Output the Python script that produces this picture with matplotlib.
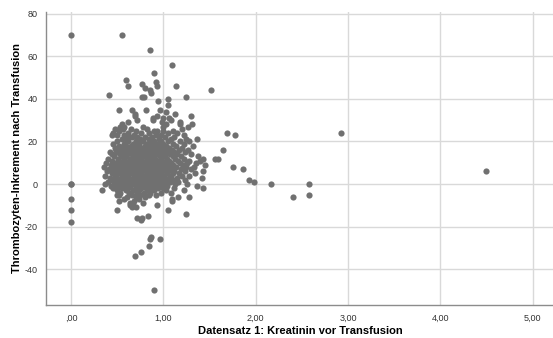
import matplotlib
matplotlib.use("Agg")
import matplotlib.pyplot as plt

# Datensatz 1: Kreatinin vor Transfusion (x) / Thrombozyten-Inkrement (y)
# obere Ausreisser und Einzelpunkte
x_top = [0.0, 0.55, 0.855, 1.09, 0.90, 0.595, 0.92, 0.765, 0.62, 0.80, 0.93, 1.14,
         0.86, 0.87, 1.52, 0.415, 0.77, 0.79, 1.245, 0.945, 1.05, 1.05, 0.52, 0.66,
         0.815, 0.96, 1.03, 0.69, 1.125, 0.69, 0.935, 1.30, 0.89, 1.0, 1.06,
         2.92, 4.49, 1.685, 1.78]
y_top = [70, 70, 63, 56, 52, 49, 48, 47, 46, 45, 46, 46,
         44, 43, 44, 42, 41, 41, 41, 39, 40, 37, 35, 35,
         35, 35, 34, 33, 33, 32, 32, 32, 31, 31, 31,
         24, 6, 24, 23]

# Hauptwolke, zeilenweise nach Inkrement
rows = {
    30: [0.89, 1.08, 0.72],
    29: [0.99, 1.18, 0.62],
    28: [1.03, 1.31, 1.18, 0.55],
    27: [0.53, 0.78, 1.27, 1.0, 0.58],
    26: [0.56, 0.65, 0.82, 0.48, 1.2],
    25: [0.90, 0.93, 1.0, 0.52, 0.7, 1.1],
    24: [0.46, 0.62, 0.85, 1.05, 1.15, 0.76],
    23: [0.44, 0.58, 0.68, 0.92, 0.98, 1.22, 0.5],
    22: [0.63, 0.66, 0.8, 0.88, 1.02, 1.12, 0.72],
    21: [1.36, 0.55, 0.75, 0.84, 0.95, 1.08, 1.25, 0.6],
    20: [0.5, 0.62, 0.7, 0.78, 0.86, 0.9, 0.97, 1.05, 1.18, 1.28],
    19: [0.46, 0.58, 0.67, 0.74, 0.82, 0.88, 0.93, 1.0, 1.1, 1.22],
    18: [0.52, 0.6, 0.65, 0.72, 0.8, 0.85, 0.91, 0.96, 1.03, 1.14, 1.32],
    17: [0.48, 0.56, 0.64, 0.7, 0.77, 0.83, 0.87, 0.94, 0.99, 1.06, 1.2],
    16: [0.49, 0.54, 0.6, 0.68, 0.73, 0.79, 0.84, 0.89, 0.95, 1.01, 1.09, 1.17, 1.27, 1.645],
    15: [0.42, 0.5, 0.58, 0.63, 0.7, 0.75, 0.81, 0.86, 0.92, 0.97, 1.04, 1.12, 1.24],
    14: [0.44, 0.53, 0.61, 0.66, 0.72, 0.78, 0.83, 0.88, 0.94, 1.0, 1.07, 1.15, 1.3],
    13: [0.47, 0.55, 0.6, 0.67, 0.74, 0.8, 0.85, 0.9, 0.96, 1.02, 1.1, 1.19, 1.38],
    12: [0.4, 0.51, 0.57, 0.64, 0.69, 0.76, 0.82, 0.87, 0.91, 0.98, 1.04, 1.13, 1.22, 1.56, 1.59, 1.43],
    11: [0.45, 0.52, 0.59, 0.65, 0.71, 0.77, 0.84, 0.89, 0.93, 0.99, 1.06, 1.16, 1.28, 1.4],
    10: [0.38, 0.48, 0.55, 0.62, 0.68, 0.73, 0.79, 0.85, 0.88, 0.95, 1.01, 1.08, 1.18, 1.26, 1.35],
    9: [0.43, 0.5, 0.57, 0.63, 0.7, 0.75, 0.81, 0.86, 0.92, 0.97, 1.03, 1.11, 1.21, 1.45],
    8: [0.36, 0.46, 0.53, 0.6, 0.66, 0.72, 0.78, 0.83, 0.89, 0.94, 1.0, 1.07, 1.14, 1.25, 1.76, 1.33],
    7: [0.41, 0.49, 0.56, 0.62, 0.69, 0.74, 0.8, 0.86, 0.9, 0.96, 1.02, 1.09, 1.19, 1.3, 1.86],
    6: [0.39, 0.47, 0.54, 0.6, 0.67, 0.73, 0.77, 0.84, 0.88, 0.93, 0.99, 1.05, 1.12, 1.23, 1.43],
    5: [0.44, 0.51, 0.58, 0.64, 0.7, 0.76, 0.82, 0.87, 0.91, 0.98, 1.04, 1.1, 1.17, 1.34],
    4: [0.37, 0.48, 0.55, 0.61, 0.68, 0.74, 0.79, 0.85, 0.9, 0.95, 1.01, 1.08, 1.2, 1.28],
    3: [0.42, 0.5, 0.57, 0.63, 0.71, 0.77, 0.83, 0.88, 0.94, 1.0, 1.06, 1.15, 1.42],
    2: [0.45, 0.53, 0.59, 0.66, 0.72, 0.8, 0.86, 0.92, 0.97, 1.03, 1.11, 1.24, 1.93],
    1: [0.4, 0.49, 0.56, 0.62, 0.69, 0.75, 0.82, 0.87, 0.93, 0.99, 1.07, 1.16, 1.98],
    0: [0.0, 0.0, 0.37, 0.47, 0.54, 0.6, 0.67, 0.73, 0.79, 0.85, 0.9, 0.96, 1.02, 1.13, 1.26, 2.17, 2.58],
    -1: [0.43, 0.51, 0.58, 0.64, 0.71, 0.78, 0.84, 0.89, 0.95, 1.04, 1.36],
    -2: [0.46, 0.55, 0.62, 0.7, 0.76, 0.81, 0.88, 0.94, 1.0, 1.12, 1.43],
    -3: [0.34, 0.5, 0.6, 0.67, 0.74, 0.83, 0.9, 1.03, 1.22],
    -4: [0.53, 0.63, 0.72, 0.79, 0.86, 0.97, 1.08],
    -5: [0.5, 0.52, 0.66, 0.75, 0.84, 0.92, 2.58],
    -6: [0.61, 0.7, 0.8, 1.16, 1.28, 2.41],
    -7: [0.0, 0.57, 0.74, 1.09],
    -8: [0.52, 0.68, 1.09],
    -9: [0.64, 0.78],
    -10: [0.64, 0.67, 0.93],
    -11: [0.66, 0.7],
    -12: [0.0, 0.495, 1.05],
    -14: [1.245],
    -15: [0.83],
    -16: [0.72, 0.77],
    -17: [0.76],
    -18: [0.0],
    -25: [0.865],
    -26: [0.86, 0.96],
    -29: [0.84],
    -32: [0.755],
    -34: [0.69],
    -50: [0.895],
}

kreatinin = list(x_top)
inkrement = list(y_top)
for yv, xs in rows.items():
    kreatinin += xs
    inkrement += [yv] * len(xs)

x_ticks = [0, 1, 2, 3, 4, 5]
x_ticklabels = [",00", "1,00", "2,00", "3,00", "4,00", "5,00"]
y_ticks = [-40, -20, 0, 20, 40, 60, 80]

plt.rcParams['font.family'] = ['Liberation Sans', 'DejaVu Sans']
plt.rcParams['axes.unicode_minus'] = False

fig = plt.figure(figsize=(5.53, 3.38), dpi=100)
ax = fig.add_axes([46 / 553, 33 / 338, 507 / 553, 293 / 338])

ax.scatter(kreatinin, inkrement, s=20, color='#707070', linewidths=0, zorder=3)

ax.set_xlim(-0.27, 5.22)
ax.set_ylim(-56.9, 80.9)
ax.set_xticks(x_ticks)
ax.set_xticklabels(x_ticklabels)
ax.set_yticks(y_ticks)
ax.grid(True, color='#d9d9d9', linewidth=1.0, zorder=0)
ax.tick_params(length=0, labelsize=6.5, labelcolor='#333333', pad=6)

for side in ['top', 'right']:
    ax.spines[side].set_visible(False)
for side in ['left', 'bottom']:
    ax.spines[side].set_color('#8c8c8c')
    ax.spines[side].set_linewidth(1.0)

fig.text(300 / 553, 1 - 331 / 338, 'Datensatz 1: Kreatinin vor Transfusion',
         fontsize=8, fontweight='bold', ha='center', va='center')
fig.text(17 / 553, 1 - 158 / 338, 'Thrombozyten-Inkrement nach Transfusion',
         fontsize=8, fontweight='bold', ha='center', va='center', rotation=90)

plt.savefig('out.png', dpi=100)
